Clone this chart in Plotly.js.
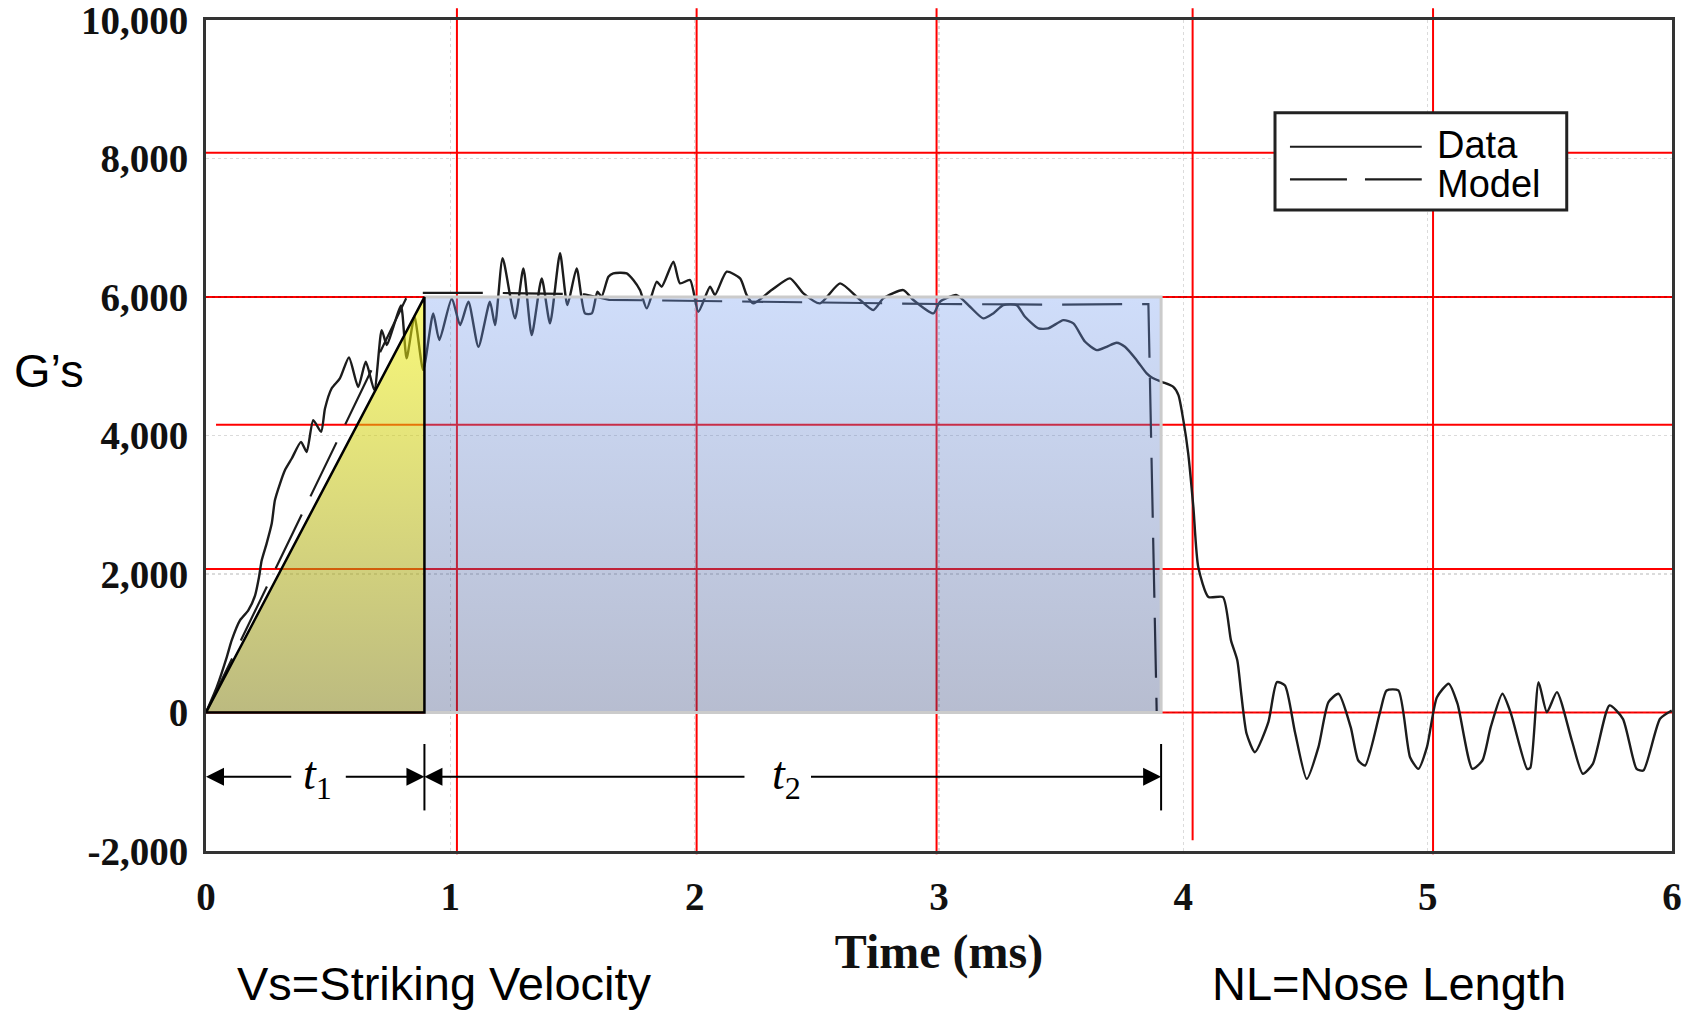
<!DOCTYPE html>
<html>
<head>
<meta charset="utf-8">
<script src="https://cdn.plot.ly/plotly-3.0.1.min.js"></script>
<style>
  html, body { margin: 0; padding: 0; background: #ffffff; }
  #chart { width: 1695px; height: 1013px; }
</style>
</head>
<body>
<div id="chart"></div>
<script>
// Measured deceleration trace (time in ms, deceleration in G's)
const timeMs = [
  0.000, 0.044, 0.085, 0.105, 0.139, 0.173, 0.201, 0.217, 0.228, 0.248,
  0.269, 0.282, 0.303, 0.323, 0.351, 0.389, 0.412, 0.439, 0.471, 0.487,
  0.514, 0.548, 0.585, 0.623, 0.654, 0.689, 0.719, 0.740, 0.767, 0.798,
  0.821, 0.853, 0.889, 0.930, 0.955, 1.006, 1.040, 1.074, 1.115, 1.162,
  1.183, 1.214, 1.265, 1.299, 1.333, 1.374, 1.408, 1.449, 1.479, 1.517,
  1.551, 1.579, 1.602, 1.619, 1.647, 1.667, 1.722, 1.749, 1.776, 1.804,
  1.845, 1.865, 1.913, 1.940, 1.981, 2.015, 2.063, 2.083, 2.131, 2.186,
  2.213, 2.240, 2.315, 2.390, 2.445, 2.513, 2.595, 2.670, 2.731, 2.772,
  2.854, 2.895, 2.977, 3.004, 3.072, 3.127, 3.181, 3.222, 3.263, 3.318,
  3.352, 3.407, 3.447, 3.509, 3.550, 3.598, 3.646, 3.686, 3.727, 3.761,
  3.809, 3.850, 3.871, 3.911, 3.959, 3.980, 4.000, 4.020, 4.041, 4.061,
  4.103, 4.162, 4.195, 4.221, 4.237, 4.259, 4.293, 4.348, 4.383, 4.416,
  4.457, 4.505, 4.553, 4.594, 4.635, 4.685, 4.716, 4.744, 4.805, 4.832,
  4.880, 4.928, 4.962, 4.997, 5.038, 5.086, 5.122, 5.183, 5.224, 5.258,
  5.306, 5.339, 5.407, 5.420, 5.454, 5.488, 5.529, 5.590, 5.635, 5.676,
  5.744, 5.799, 5.855, 5.883, 5.951, 5.999
];
const gData = [
  0, 366, 800, 1041, 1330, 1475, 1692, 1956, 2198, 2439,
  2728, 3065, 3307, 3499, 3668, 3908, 3763, 4222, 4053, 4391,
  4680, 4825, 5128, 4700, 5065, 4655, 5523, 5306, 5571, 5880,
  5114, 5720, 4945, 5764, 5378, 5981, 5595, 5932, 5282, 5932,
  5595, 6560, 5692, 6415, 5450, 6270, 5620, 6632, 5884, 6415,
  5764, 5764, 6077, 6005, 6294, 6343, 6343, 6246, 6101, 5836,
  6222, 6150, 6511, 6198, 6246, 5788, 6150, 6030, 6366, 6270,
  6029, 5909, 6101, 6270, 6054, 5909, 6198, 5981, 5812, 5981,
  6101, 5957, 5764, 5932, 6029, 5860, 5692, 5764, 5884, 5884,
  5715, 5547, 5547, 5667, 5620, 5354, 5234, 5282, 5340, 5282,
  5089, 4897, 4839, 4776, 4703, 4583, 4222, 3740, 2968, 2101,
  1667, 1667, 1041, 752, 270, -308, -574, -140, 438, 390,
  -285, -959, -501, 149, 270, -213, -694, -766, 4, 318,
  318, -646, -814, -501, 221, 415, 126, -814, -694, -213,
  270, 4, -814, -800, 438, 4, 294, -405, -886, -742,
  101, -91, -814, -839, -91, 29
];

// Model pulse: linear rise, plateau, abrupt end
const modelTime = [0, 0.83, 1.20, 1.55, 1.65, 2.30, 3.00, 3.50, 3.857, 3.891];
const modelG    = [0, 6060, 6060, 6040, 5960, 5930, 5900, 5890, 5900, 0];

// Idealised pulse: rise time t1, plateau duration t2, plateau level
const t1End = 0.894;
const t2End = 3.909;
const plateauG = 6000;
const triangleX = [0, t1End, t1End, 0];
const triangleY = [0, plateauG, 0, 0];
const plateauX = [t1End, t2End, t2End, t1End, t1End];
const plateauY = [0, 0, plateauG, plateauG, 0];

// Axis ticks
const xTickVals = [0, 1, 2, 3, 4, 5, 6];
const xTickText = ['0', '1', '2', '3', '4', '5', '6'];
const yTickVals = [-2000, 0, 2000, 4000, 6000, 8000, 10000];
const yTickText = ['-2,000', '0', '2,000', '4,000', '6,000', '8,000', '10,000'];

// Red reference grid drawn over the chart
const redGridX = [1.027, 2.008, 2.990, 4.038, 5.022];
const redGridY = [8083, 6000, 4156, 2072, 0];

const ink = '#1c1c1c';
const serif = 'Liberation Serif, Times New Roman, serif';
const sans = 'Liberation Sans, Arial, sans-serif';

const traces = [
  {
    x: timeMs, y: gData, name: 'Data', type: 'scatter', mode: 'lines',
    line: { color: ink, width: 2.4, shape: 'spline', smoothing: 0.6 }
  },
  {
    x: modelTime, y: modelG, name: 'Model', type: 'scatter', mode: 'lines',
    line: { color: ink, width: 2.2, dash: '60px,20px' }
  },
  {
    x: triangleX, y: triangleY, name: 't1', type: 'scatter', mode: 'lines',
    line: { width: 0 }, fill: 'toself', opacity: 0.55,
    fillgradient: { type: 'vertical', colorscale: [[0, 'rgb(133,130,24)'], [1, 'rgb(245,245,10)']] },
    hoverinfo: 'skip'
  },
  {
    x: plateauX, y: plateauY, name: 't2', type: 'scatter', mode: 'lines',
    line: { width: 0 }, fill: 'toself', opacity: 0.35,
    fillgradient: { type: 'vertical', colorscale: [[0, 'rgb(49,66,121)'], [1, 'rgb(118,158,241)']] },
    hoverinfo: 'skip'
  }
];

const shapes = [];
// red vertical lines
redGridX.forEach((v, i) => {
  shapes.push({
    type: 'line', layer: 'below', xref: 'x', yref: 'paper',
    x0: v, x1: v, y0: i === 3 ? 0.013 : -0.004, y1: 1.014,
    line: { color: '#ff0000', width: 2 }
  });
});
// red horizontal lines
redGridY.forEach((v, i) => {
  shapes.push({
    type: 'line', layer: 'below', xref: 'x', yref: 'y',
    x0: i === 2 ? 0.041 : -0.03, x1: 6, y0: v, y1: v,
    line: { color: '#ff0000', width: 2 }
  });
});
// outline of the plateau block
shapes.push({
  type: 'path', layer: 'above', xref: 'x', yref: 'y',
  path: `M${t1End},${plateauG} L${t2End},${plateauG} L${t2End},0 L${t1End},0`,
  line: { color: '#cbcbcb', width: 3 }
});
// outline of the rise triangle
shapes.push({
  type: 'path', layer: 'above', xref: 'x', yref: 'y',
  path: `M0,0 L${t1End},${plateauG} L${t1End},0 Z`,
  line: { color: '#000000', width: 2.5 }
});
// end bars of the t1 / t2 dimension lines
const barLow = -1415, barHigh = -455;
[t1End, t2End].forEach(v => {
  shapes.push({
    type: 'line', layer: 'above', xref: 'x', yref: 'y',
    x0: v, x1: v, y0: barLow, y1: barHigh,
    line: { color: '#000000', width: 2 }
  });
});
// legend box and samples
shapes.push({
  type: 'rect', layer: 'above', xref: 'paper', yref: 'paper',
  x0: 0.7292, x1: 0.9282, y0: 0.7714, y1: 0.8884,
  fillcolor: '#ffffff', line: { color: '#222222', width: 3 }
});
shapes.push({
  type: 'line', layer: 'above', xref: 'paper', yref: 'paper',
  x0: 0.7394, x1: 0.8293, y0: 0.8475, y1: 0.8475,
  line: { color: ink, width: 2.2 }
});
shapes.push({
  type: 'line', layer: 'above', xref: 'paper', yref: 'paper',
  x0: 0.7394, x1: 0.8293, y0: 0.8083, y1: 0.8083,
  line: { color: ink, width: 2.2, dash: '57px,18px' }
});

// dimension arrows for t1 and t2
const arrowY = -930;
const arrowDefs = [
  { head: 0, tail: 0.355 },
  { head: t1End, tail: 0.566 },
  { head: t1End, tail: 2.210 },
  { head: t2End, tail: 2.470 }
];
const annotations = arrowDefs.map(a => ({
  x: a.head, y: arrowY, ax: a.tail, ay: arrowY, axref: 'x', ayref: 'y',
  xref: 'x', yref: 'y', text: '', showarrow: true,
  arrowhead: 2, arrowsize: 1.8, arrowwidth: 2, arrowcolor: '#000000', standoff: 0
}));

annotations.push(
  { x: 0.458, y: arrowY, xref: 'x', yref: 'y', text: '<i>t</i><sub>1</sub>',
    showarrow: false, xanchor: 'center', yanchor: 'middle',
    font: { family: serif, size: 46, color: '#000' } },
  { x: 2.374, y: arrowY, xref: 'x', yref: 'y', text: '<i>t</i><sub>2</sub>',
    showarrow: false, xanchor: 'center', yanchor: 'middle',
    font: { family: serif, size: 46, color: '#000' } },
  { x: -0.1074, y: 0.5788, xref: 'paper', yref: 'paper', text: 'G’s',
    showarrow: false, xanchor: 'center', yanchor: 'middle',
    font: { family: sans, size: 47, color: '#000' } },
  { x: 0.163, y: -0.16, xref: 'paper', yref: 'paper', text: 'Vs=Striking Velocity',
    showarrow: false, xanchor: 'center', yanchor: 'middle',
    font: { family: sans, size: 47, color: '#000' } },
  { x: 0.807, y: -0.16, xref: 'paper', yref: 'paper', text: 'NL=Nose Length',
    showarrow: false, xanchor: 'center', yanchor: 'middle',
    font: { family: sans, size: 47, color: '#000' } },
  { x: 0.8385, y: 0.8496, xref: 'paper', yref: 'paper', text: 'Data',
    showarrow: false, xanchor: 'left', yanchor: 'middle',
    font: { family: sans, size: 38, color: '#000' } },
  { x: 0.8385, y: 0.8026, xref: 'paper', yref: 'paper', text: 'Model',
    showarrow: false, xanchor: 'left', yanchor: 'middle',
    font: { family: sans, size: 38, color: '#000' } }
);

const axisCommon = {
  showline: true, mirror: true, linecolor: '#333333', linewidth: 3,
  showgrid: true, gridcolor: 'rgba(0,0,0,0.14)', griddash: 'dot', gridwidth: 1.5,
  zeroline: false, ticks: '', ticklabeloverflow: 'allow',
  tickfont: { family: serif, size: 39, color: '#111111', weight: 700 }
};

const layout = {
  width: 1695, height: 1013,
  margin: { l: 206, r: 23, t: 20, b: 162, pad: 0 },
  paper_bgcolor: '#ffffff', plot_bgcolor: '#ffffff',
  showlegend: false,
  xaxis: Object.assign({}, axisCommon, {
    range: [0, 6], tickmode: 'array', tickvals: xTickVals, ticktext: xTickText,
    ticklabelstandoff: 9,
    title: { text: 'Time (ms)', standoff: 18,
      font: { family: serif, size: 48, color: '#111111', weight: 700 } }
  }),
  yaxis: Object.assign({}, axisCommon, {
    range: [-2001, 10002], tickmode: 'array', tickvals: yTickVals, ticktext: yTickText,
    ticklabelstandoff: 7
  }),
  shapes: shapes,
  annotations: annotations
};

Plotly.newPlot('chart', traces, layout, { displayModeBar: false, staticPlot: true });
</script>
</body>
</html>
